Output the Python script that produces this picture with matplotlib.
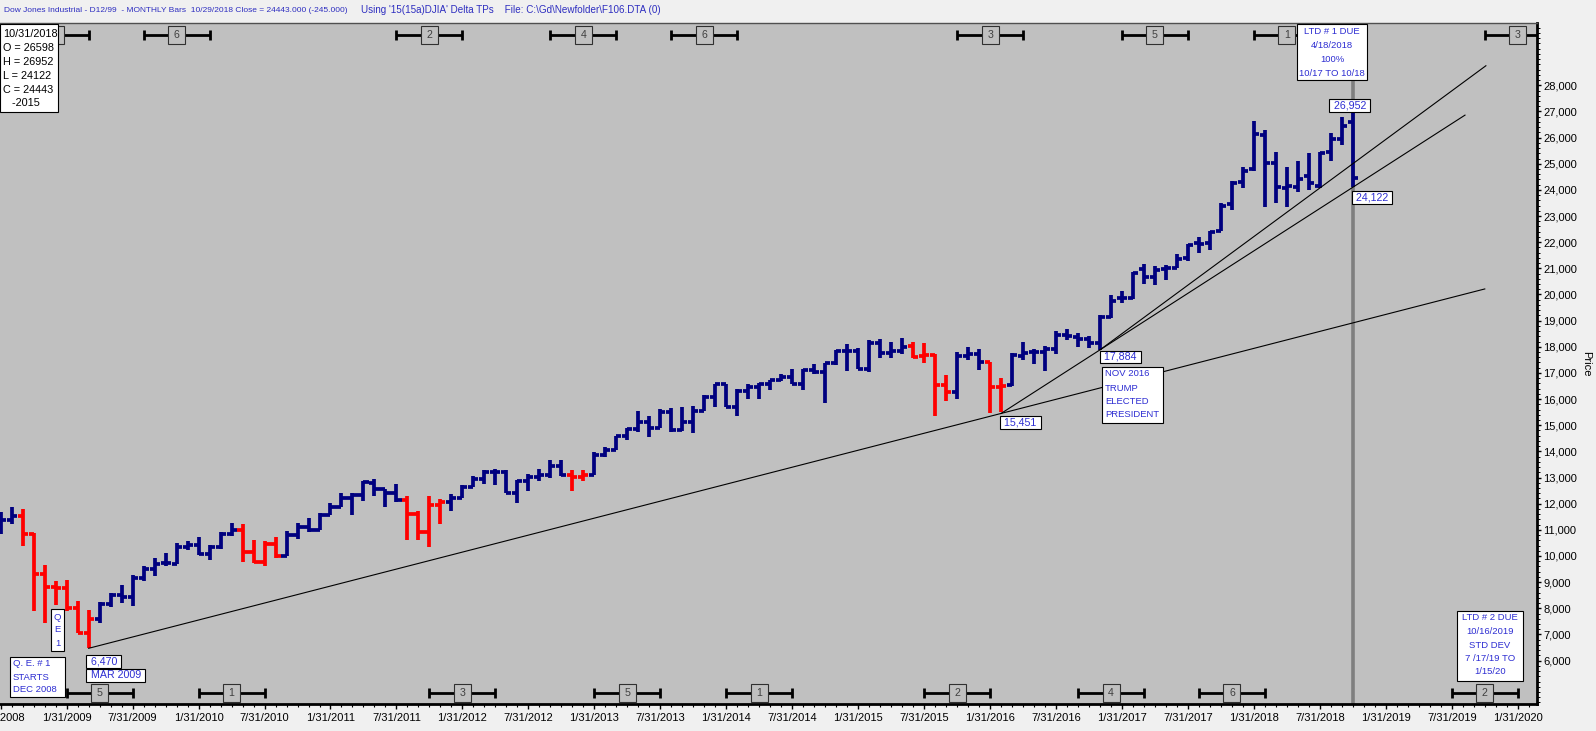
import matplotlib
matplotlib.use('Agg')
import matplotlib.pyplot as plt
from matplotlib.collections import LineCollection
from matplotlib.patches import Rectangle

plt.rcParams['font.family'] = ['Liberation Sans', 'DejaVu Sans']

# ---------------- data ----------------
# monthly bars, first bar = Jul 2008 (month index 6 counted from Jan 2008)
first_month = 6
opens = [11346, 11378, 11516, 10847, 9319, 8826,
         8772, 7996, 7056, 7609, 8168, 8501, 8447, 9171, 9492, 9713, 9712, 10343,
         10430, 10068, 10326, 10857, 11009, 10137, 9774, 10468, 10016, 10789, 11119, 11007,
         11577, 11892, 12226, 12321, 12810, 12569, 12414, 12144, 11613, 10912, 11955, 12046,
         12221, 12632, 12952, 13213, 13214, 12391, 12880, 13008, 13092, 13437, 13099, 13027,
         13104, 13861, 14054, 14580, 14839, 15115, 14911, 15499, 14810, 15130, 15546, 16086,
         16572, 15698, 16321, 16458, 16580, 16716, 16828, 16561, 17099, 17041, 17391, 17827,
         17823, 17165, 18135, 17776, 17841, 18017, 17639, 17690, 16528, 16285, 17664, 17719,
         17406, 16451, 16546, 17662, 17784, 17789, 17924, 18434, 18392, 18279, 18162, 19132,
         19872, 19873, 20957, 20665, 20962, 21030, 21392, 21961, 21982, 22423, 23442, 24305,
         24809, 26083, 25024, 24076, 24117, 24542, 24161, 25461, 25963, 26598]
highs = [11697, 11867, 11790, 10882, 9654, 9026,
         9088, 8281, 7925, 8234, 8588, 8877, 9286, 9630, 9918, 10119, 10480, 10580,
         10730, 10418, 10903, 11259, 11206, 10595, 10585, 10719, 10948, 11245, 11452, 11625,
         12020, 12391, 12419, 12876, 12928, 12570, 12753, 12284, 11717, 12284, 12188, 12360,
         12720, 13055, 13289, 13338, 13280, 12899, 13117, 13330, 13653, 13662, 13290, 13307,
         13970, 14150, 14585, 14888, 15542, 15340, 15635, 15658, 15710, 15721, 16175, 16588,
         16588, 16398, 16588, 16632, 16735, 16978, 17152, 17153, 17350, 17395, 17895, 18103,
         17951, 18244, 18289, 18175, 18351, 18199, 18137, 17711, 16933, 17799, 17978, 17922,
         17406, 16796, 17755, 18167, 17934, 18017, 18622, 18668, 18517, 18399, 19226, 19988,
         20126, 20851, 21169, 21071, 21113, 21535, 21929, 22180, 22420, 23485, 24328, 24876,
         26617, 26307, 25449, 24858, 25087, 25403, 25461, 26168, 26770, 26952]
lows = [10827, 11221, 10365, 7882, 7449, 8118,
        7910, 7039, 6470, 7453, 8047, 8221, 8087, 9039, 9253, 9613, 9678, 10238,
        10032, 9835, 10253, 10772, 9774, 9732, 9614, 9936, 10016, 10660, 10929, 11007,
        11577, 11892, 11555, 12093, 12302, 11862, 12072, 10604, 10597, 10362, 11231, 11735,
        12221, 12630, 12756, 12710, 12391, 12036, 12492, 12875, 12977, 13059, 12471, 12883,
        13104, 13784, 14054, 14434, 14746, 14551, 14911, 14760, 14777, 14720, 15546, 15704,
        15699, 15340, 16015, 16015, 16334, 16674, 16563, 16334, 16945, 15855, 17299, 17067,
        17136, 17038, 17585, 17575, 17718, 17576, 17399, 15370, 15942, 16013, 17486, 17129,
        15451, 15503, 16518, 17484, 17332, 17063, 17713, 18247, 17992, 17960, 17884, 19115,
        19677, 19832, 20412, 20379, 20554, 20994, 21280, 21600, 21709, 22417, 23243, 24067,
        24741, 23360, 23509, 23345, 23908, 23998, 24077, 25123, 25724, 24122]
closes = [11378, 11544, 10851, 9325, 8829, 8776,
          8001, 7063, 7609, 8168, 8500, 8447, 9172, 9496, 9712, 9713, 10345, 10428,
          10067, 10325, 10857, 11009, 10137, 9774, 10466, 10015, 10788, 11118, 11006, 11578,
          11892, 12226, 12320, 12811, 12570, 12414, 12143, 11614, 10913, 11955, 12046, 12218,
          12633, 12952, 13212, 13214, 12393, 12880, 13009, 13091, 13437, 13096, 13026, 13104,
          13861, 14054, 14579, 14840, 15116, 14910, 15500, 14810, 15130, 15546, 16086, 16577,
          15699, 16322, 16458, 16581, 16717, 16827, 16563, 17098, 17043, 17391, 17828, 17823,
          17165, 18133, 17776, 17841, 18011, 17620, 17690, 16528, 16285, 17664, 17720, 17425,
          16466, 16517, 17685, 17774, 17787, 17930, 18432, 18401, 18308, 18142, 19124, 19763,
          19864, 20812, 20663, 20941, 21009, 21350, 21891, 21948, 22405, 23377, 24272, 24719,
          26149, 25029, 24103, 24163, 24416, 24271, 25415, 25965, 26458, 24443]
# trend colouring of each bar: B = up (navy), R = down (red)
trend = ("BBRRRR"
         "RRRBBBBBBBBB"
         "BBBBRRRRBBBB"
         "BBBBBBBRRRRB"
         "BBBBBBBBBBRR"
         "BBBBBBBBBBBB"
         "BBBBBBBBBBBB"
         "BBBBBRRRRBBB"
         "RRBBBBBBBBBB"
         "BBBBBBBBBBBB"
         "BBBBBBBBBB")

x_tick_months = list(range(6, 145, 6))
x_tick_labels = ['7/31/2008', '1/31/2009', '7/31/2009', '1/31/2010', '7/31/2010',
                 '1/31/2011', '7/31/2011', '1/31/2012', '7/31/2012', '1/31/2013',
                 '7/31/2013', '1/31/2014', '7/31/2014', '1/31/2015', '7/31/2015',
                 '1/31/2016', '7/31/2016', '1/31/2017', '7/31/2017', '1/31/2018',
                 '7/31/2018', '1/31/2019', '7/31/2019', '1/31/2020']
y_ticks = list(range(6000, 28001, 1000))

# cycle turning-point brackets (centre month index, label; first top label is hidden)
top_cycle_months = [11, 22, 45, 59, 70, 96, 111, 123, 144]
top_cycle_labels = ['', '6', '2', '4', '6', '3', '5', '1', '3']
bot_cycle_months = [15, 27, 48, 63, 75, 93, 107, 118, 141]
bot_cycle_labels = ['5', '1', '3', '5', '1', '2', '4', '6', '2']

# trend lines: (start month, start price, through month, through price, end month)
line_anchor_1 = (14, 6470, 97, 15451, 141.0)
line_anchor_2 = (97, 15451, 106, 17884, 139.2)
line_anchor_3 = (106, 17884, 141.1, 28747, 141.1)

last_month = 129   # Oct 2018 (vertical marker)

title_left = 'Dow Jones Industrial - D12/99  - MONTHLY Bars  10/29/2018 Close = 24443.000 (-245.000)'
title_right = "Using '15(15a)DJIA' Delta TPs    File: C:\\Gd\\Newfolder\\F106.DTA (0)"

# ---------------- figure ----------------
W, H = 1596, 731
fig = plt.figure(figsize=(W / 100, H / 100), dpi=100)
fig.patch.set_facecolor('#F0F0F0')
renderer = fig.canvas.get_renderer()
AX_L, AX_R, AX_T, AX_B = 0, 1537, 23, 704
ax = fig.add_axes([AX_L / W, 1 - AX_B / H, (AX_R - AX_L) / W, (AX_B - AX_T) / H])
ax.set_facecolor('#C0C0C0')
XL, XR = 5.936, 145.75
YB, YT = 4340, 30382
ax.set_xlim(XL, XR)
ax.set_ylim(YB, YT)

def fit_size(s, target_px, cap):
    t = fig.text(0, 0, s, fontsize=10)
    w = t.get_window_extent(renderer=renderer).width
    t.remove()
    return min(cap, 10 * target_px / w)

def dx_px(p):   # pixels -> month units
    return p * (XR - XL) / (AX_R - AX_L)

def dy_px(p):   # pixels -> price units
    return p * (YT - YB) / (AX_B - AX_T)

def fx(px):
    return px / W

def fy(py):
    return 1 - py / H

NAVY = '#00007F'
RED = '#FF0000'
TXT = '#2E2ED2'
FS = 7.7
FS_BOX = 6.8

# bars
segs, cols = [], []
tick = 0.46
for k in range(len(opens)):
    x = first_month + k
    c = NAVY if trend[k] == 'B' else RED
    segs.append([(x, lows[k]), (x, highs[k])])
    segs.append([(x - tick, opens[k]), (x, opens[k])])
    segs.append([(x, closes[k]), (x + tick, closes[k])])
    cols += [c, c, c]
ax.add_collection(LineCollection(segs, colors=cols, linewidths=2.7,
                                 capstyle='butt', zorder=4))

# vertical marker at the last bar
ax.axvline(last_month, color='#7F7F7F', lw=2.6, zorder=2)

# trend lines
for (x0, y0, x1, y1, xe) in (line_anchor_1, line_anchor_2, line_anchor_3):
    slope = (y1 - y0) / (x1 - x0)
    ax.plot([x0, xe], [y0, y0 + slope * (xe - x0)], color='black', lw=0.8, zorder=5)

# cycle brackets
def brackets(months, labels, ypx):
    yc = YT - dy_px(ypx - AX_T)
    cap = dy_px(5)
    for m, lab in zip(months, labels):
        ax.plot([m - 3, m + 3], [yc, yc], color='black', lw=2.0, zorder=6,
                solid_capstyle='butt')
        for e in (m - 3, m + 3):
            ax.plot([e, e], [yc - cap, yc + cap], color='black', lw=2.0, zorder=6,
                    solid_capstyle='butt')
        bw, bh = dx_px(17), dy_px(18.5)
        ax.add_patch(Rectangle((m - bw / 2, yc - bh / 2), bw, bh, fc='#C0C0C0',
                               ec='#303030', lw=0.8, zorder=7))
        if lab:
            ax.text(m, yc, lab, ha='center', va='center', fontsize=FS,
                    color='#404040', zorder=8)

brackets(top_cycle_months, top_cycle_labels, 35)
brackets(bot_cycle_months, bot_cycle_labels, 693)

# axes styling
ax.spines['left'].set_visible(False)
ax.spines['top'].set_color('#505050')
ax.spines['top'].set_linewidth(1.0)
ax.spines['bottom'].set_linewidth(2.0)
ax.spines['right'].set_linewidth(2.0)
ax.set_xticks(x_tick_months)
ax.set_xticklabels(x_tick_labels)
ax.set_xticks(range(6, 146), minor=True)
ax.tick_params(axis='x', which='major', length=3.5, width=1, pad=3, labelsize=8)
ax.tick_params(axis='x', which='minor', length=2, width=0.8)
ax.yaxis.tick_right()
ax.set_yticks(y_ticks)
ax.set_yticklabels([f'{v:,}' for v in y_ticks])
ax.set_yticks(range(4400, 30400, 200), minor=True)
ax.tick_params(axis='y', which='major', length=3, width=1, pad=1.5, labelsize=8)
ax.tick_params(axis='y', which='minor', length=1.8, width=0.7)
fig.text(fx(1586), fy(364), 'Price', rotation=270, ha='center', va='center',
         fontsize=8)

# header (sizes fitted so that the two parts keep the reference spacing)
fs_t1 = fit_size(title_left, 345, 7.9)
fs_t2 = fit_size(title_right, 300, 7.9)
fig.text(fx(4), fy(10), title_left, ha='left', va='center', fontsize=fs_t1,
         color='#2E2EC0')
fig.text(fx(361), fy(10), title_right, ha='left', va='center', fontsize=fs_t2,
         color='#2E2EC0')

def framed(x0, y0, x1, y1, lines, line_y, align='center', text_x=None,
           color=TXT, size=FS_BOX):
    fig.patches.append(Rectangle((fx(x0), fy(y1)), fx(x1) - fx(x0), fy(y0) - fy(y1),
                                 transform=fig.transFigure, fc='white', ec='black',
                                 lw=0.8, zorder=9))
    if text_x is None:
        text_x = (x0 + x1) / 2
    for s, yy in zip(lines, line_y):
        fig.text(fx(text_x), fy(yy), s, ha=align, va='center', fontsize=size,
                 color=color, zorder=10)

# info box of the last bar
k = len(opens) - 1
info_lines = ['10/31/2018', f'O = {opens[k]}', f'H = {highs[k]}', f'L = {lows[k]}',
              f'C = {closes[k]}', '   -2015']
framed(0, 24, 58, 112, info_lines, [34, 48, 62, 76, 90, 103], align='left',
       text_x=3, color='black', size=7.8)

framed(1297, 24, 1367, 80, ['LTD # 1 DUE', '4/18/2018', '100%', '10/17 TO 10/18'],
       [31.5, 45, 59, 73])
framed(1457, 611, 1523, 681, ['LTD # 2 DUE', '10/16/2019', 'STD DEV', '7 /17/19 TO',
                              '1/15/20'], [618, 631.5, 645, 658.5, 672])
framed(51, 609, 64, 651, ['Q', 'E', '1'], [617, 630, 643])
framed(10, 657, 65, 697, ['Q. E. # 1', 'STARTS', 'DEC 2008'], [663, 677, 690],
       align='left', text_x=13)

# point labels anchored on the bars
box = dict(boxstyle='square,pad=0.12', fc='white', ec='black', lw=0.8)

def note(s, xy, off, ha='left', va='top'):
    ax.annotate(s, xy=xy, xytext=off, textcoords='offset pixels', ha=ha, va=va,
                fontsize=FS, color=TXT, bbox=box, zorder=9, annotation_clip=False)

lo_i = lows.index(6470)
note(' 6,470 ', (first_month + lo_i, 6470), (-1, -8))
note(' MAR 2009 ', (first_month + lo_i, 6470), (-1, -22))
note(' 15,451 ', (97, 15451), (0, -4))
note(' 17,884 ', (106, 17884), (1, -2))
note(' 26,952 ', (last_month, 26952), (-3, 2), ha='center', va='bottom')
note(' 24,122 ', (last_month, 24122), (0, -6))
framed(1102, 367, 1163, 423, ['NOV 2016', 'TRUMP', 'ELECTED', 'PRESIDENT'],
       [373.5, 388, 401.5, 415], align='left', text_x=1105)

fig.savefig('out.png', dpi=100, facecolor=fig.get_facecolor())
